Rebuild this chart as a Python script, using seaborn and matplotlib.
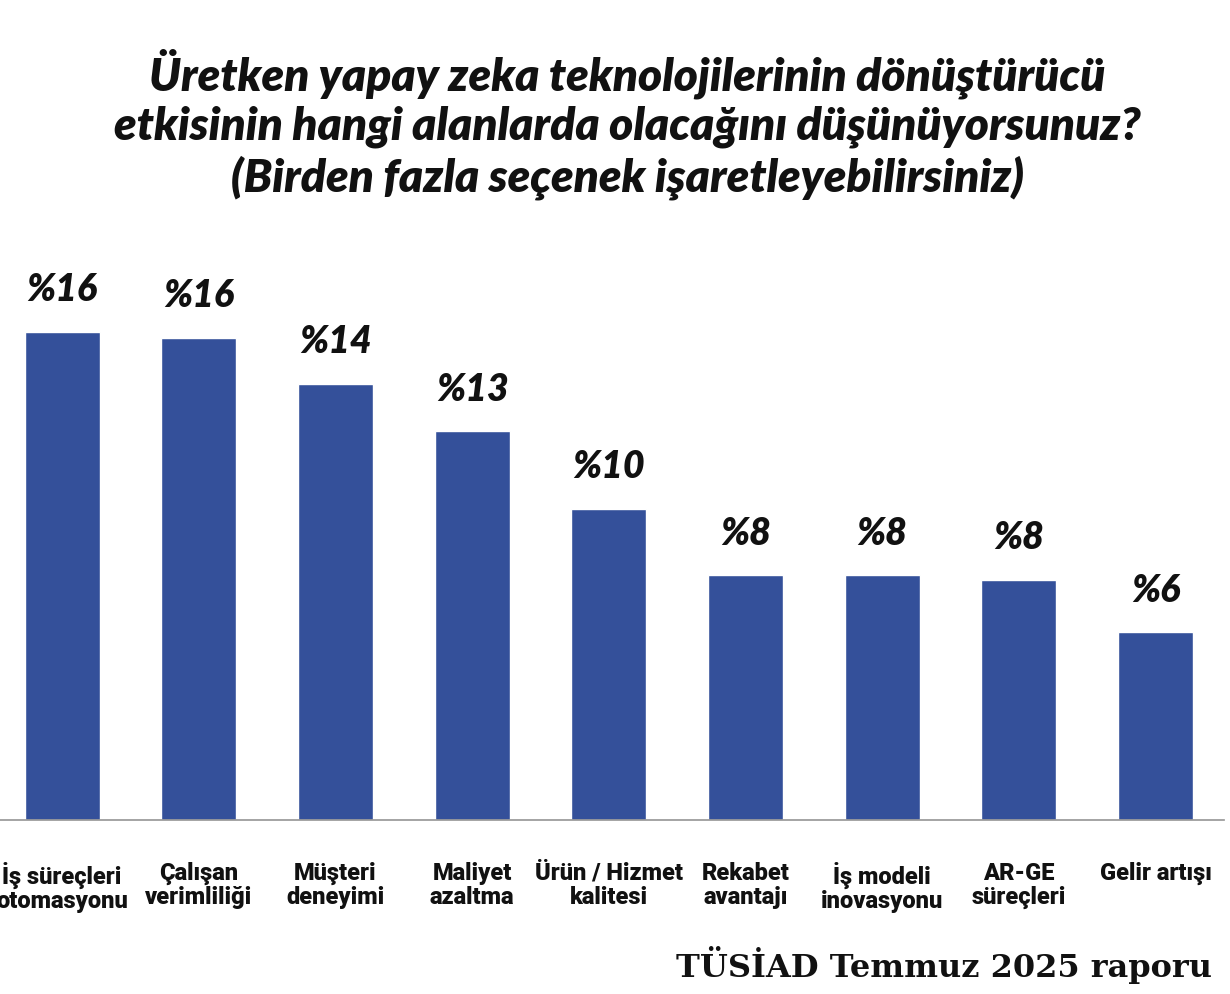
import matplotlib
matplotlib.use("Agg")
import matplotlib.pyplot as plt
import pandas as pd
import seaborn as sns

categories = ["İş süreçleri\notomasyonu", "Çalışan\nverimliliği", "Müşteri\ndeneyimi",
              "Maliyet\nazaltma", "Ürün / Hizmet\nkalitesi", "Rekabet\navantajı",
              "İş modeli\ninovasyonu", "AR-GE\nsüreçleri", "Gelir artışı"]
values = [16.0, 15.8, 14.3, 12.75, 10.2, 8.03, 8.03, 7.87, 6.16]
labels = ["%16", "%16", "%14", "%13", "%10", "%8", "%8", "%8", "%6"]

df = pd.DataFrame({"cat": categories, "val": values})

sns.set_theme(style="white")
plt.rcParams["font.family"] = ["Lato", "DejaVu Sans"]

fig = plt.figure(figsize=(12.3, 9.94), dpi=100)
ax = fig.add_axes([-0.005, 0.175, 1.0, 0.614])
sns.barplot(data=df, x="cat", y="val", color="#34509a", width=0.55, saturation=1, ax=ax)
ax.set_ylim(0, 20)
ax.set_xlim(-0.5, 8.5)
for i, (v, t) in enumerate(zip(values, labels)):
    ax.text(i, v + 0.8, t, ha="center", va="bottom", fontsize=27, fontweight="heavy",
            style="italic", color="#111111")
for s in ["top", "right", "left"]:
    ax.spines[s].set_visible(False)
ax.spines["bottom"].set_color("#999999")
ax.set_yticks([])
ax.set_xlabel("")
ax.set_ylabel("")
ax.tick_params(axis="x", length=0, pad=30)
for lbl in ax.get_xticklabels():
    lbl.set_fontsize(17)
    lbl.set_fontweight("heavy")
    lbl.set_family(["Roboto", "DejaVu Sans"])
    lbl.set_linespacing(1.05)
    lbl.set_color("#111111")

fig.text(0.51, 0.875, "Üretken yapay zeka teknolojilerinin dönüştürücü\n"
         "etkisinin hangi alanlarda olacağını düşünüyorsunuz?\n"
         "(Birden fazla seçenek işaretleyebilirsiniz)",
         ha="center", va="center", fontsize=33, fontweight="heavy", style="italic",
         linespacing=1.2, color="#111111")
fig.text(0.985, 0.01, "TÜSİAD Temmuz 2025 raporu", ha="right", va="bottom",
         fontsize=23, fontweight="bold", family=["DejaVu Serif"], color="#111111")

fig.savefig("out.png", dpi=100, facecolor="white")
